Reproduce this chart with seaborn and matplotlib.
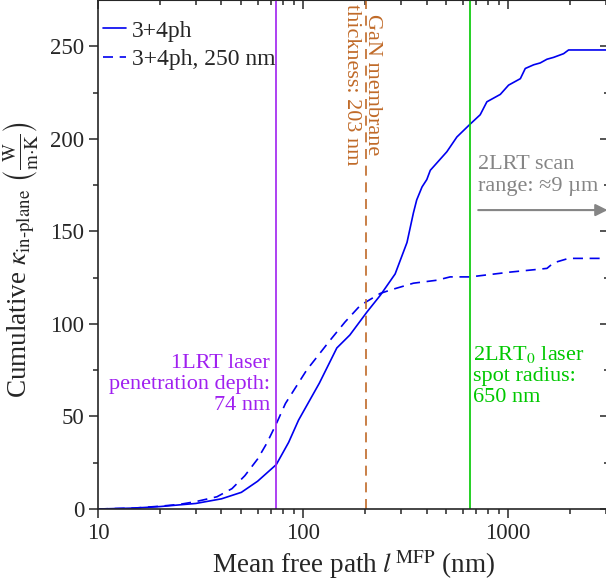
import matplotlib
matplotlib.use('AGG')
import matplotlib.pyplot as plt
import seaborn as sns
import pandas as pd
import numpy as np

# cumulative in-plane conductivity vs mean free path
mfp_full = [10, 15, 20, 30, 40, 50, 60, 74, 85, 95, 120, 146, 169, 205, 238, 281,
            321, 345, 358, 380, 401, 417, 502, 562, 653, 730, 787, 915, 1004, 1146,
            1211, 1331, 1433, 1545, 1664, 1862, 1969, 3000]
kappa_full = [0, 0.5, 1.3, 3, 5.5, 9, 15, 24, 36, 48, 68, 87, 94, 106.5, 115.5, 127,
              144, 160, 167, 174, 178, 183, 193, 201, 208, 213, 220, 224, 229, 232.5,
              238, 240, 241, 243, 244, 246, 248, 248]

mfp_250 = [10, 15, 20, 25, 30, 38, 45, 52, 60, 66.5, 74, 82, 104, 135, 160, 190, 238,
           270, 300, 345, 449, 521, 653, 1023, 1400, 1545, 1664, 1969, 3000]
kappa_250 = [0, 0.5, 1.5, 2.5, 4, 6.6, 11, 18, 27, 35.5, 46, 57, 75, 91, 101, 110, 116.5,
             118.5, 120, 122, 123.6, 125.4, 125.4, 128, 129.5, 130, 133, 135.4, 135.4]

series_labels = ["3+4ph", "3+4ph, 250 nm"]

# reference lengths (nm)
lrt1_depth = 74
gan_thickness = 203
lrt2_radius = 650

blue = "#0000f0"
purple = "#a020f0"
brown = "#c06a28"
green = "#00c800"
grey = "#858585"


def main():
    sns.set_style("ticks")
    plt.rcParams['font.family'] = ['Liberation Serif', 'DejaVu Serif']
    plt.rcParams['mathtext.fontset'] = 'stix'

    fig = plt.figure(figsize=(6.06, 5.82), dpi=100)
    ax = fig.add_axes([98 / 606, 73 / 582, 511 / 606, 509 / 582])

    sns.lineplot(x=mfp_full, y=kappa_full, ax=ax, color=blue, lw=1.2,
                 label=series_labels[0])
    sns.lineplot(x=mfp_250, y=kappa_250, ax=ax, color=blue, lw=1.2,
                 dashes=False, label=series_labels[1])
    ax.lines[1].set_dashes([6, 4])

    ax.axvline(lrt1_depth, color=purple, lw=1.2)
    ax.axvline(gan_thickness, color=brown, lw=1.2, dashes=(6, 4))
    ax.axvline(lrt2_radius, color=green, lw=1.2)

    ax.set_xscale("log")
    ax.set_xlim(10, 3100)
    ax.set_ylim(0, 275)
    ax.set_yticks([0, 50, 100, 150, 200, 250])
    ax.set_yticks(np.arange(25, 275, 50), minor=True)
    ax.xaxis.set_major_formatter(matplotlib.ticker.FuncFormatter(lambda v, p: f"{v:g}"))

    for s in ax.spines.values():
        s.set_linewidth(1.2)
        s.set_visible(True)
    ax.tick_params(which="both", direction="out", width=1.1, labelsize=16.5,
                   top=False, right=False)
    ax.tick_params(which="major", length=6.5)
    ax.tick_params(which="minor", length=3.5)

    # mirrored ticks pointing inward on top and right
    sec_x = ax.secondary_xaxis("top")
    sec_x.tick_params(which="both", direction="in", labeltop=False, width=1.1)
    sec_x.tick_params(which="major", length=6.5)
    sec_x.tick_params(which="minor", length=3.5)
    sec_y = ax.secondary_yaxis("right")
    sec_y.set_yticks([0, 50, 100, 150, 200, 250])
    sec_y.set_yticks(np.arange(25, 275, 50), minor=True)
    sec_y.tick_params(which="both", direction="in", labelright=False, width=1.1)
    sec_y.tick_params(which="major", length=6.5)
    sec_y.tick_params(which="minor", length=3.5)

    ax.set_xlabel(r"Mean free path $\mathit{l}^{\,\mathrm{MFP}}$ (nm)", fontsize=19.5)
    ax.xaxis.set_label_coords(0.5, -0.077)
    ax.set_ylabel(r"Cumulative $\kappa_{\mathrm{in\text{-}plane}}$ "
                  r"$\left(\frac{\mathrm{W}}{\mathrm{m{\cdot}K}}\right)$", fontsize=19.5)
    ax.yaxis.set_label_coords(-0.112, 0.49)

    ax.legend(loc="upper left", frameon=False, fontsize=17, handlelength=1.0,
              handletextpad=0.25, labelspacing=0.3, borderaxespad=0.0,
              borderpad=0.2, bbox_to_anchor=(0.0, 0.97))

    ax.text(69, 84, "1LRT laser\npenetration depth:\n74 nm", color=purple,
            fontsize=16, ha="right", va="top", linespacing=1.15)
    ax.text(675, 89, "2LRT$_0$ laser\nspot radius:\n650 nm", color=green,
            fontsize=16, ha="left", va="top", linespacing=1.15)
    ax.text(194, 273, "GaN membrane\nthickness: 203 nm", color=brown,
            fontsize=16, ha="center", va="top", rotation=-90, linespacing=1.15)
    ax.text(714, 191, "2LRT scan\nrange: \u22489 \u00b5m", color=grey,
            fontsize=16, ha="left", va="top", linespacing=1.15)
    ax.annotate("", xy=(3050, 161.5), xytext=(714, 161.5),
                arrowprops=dict(arrowstyle="-|>", color=grey, lw=1.5,
                                mutation_scale=18, shrinkA=0, shrinkB=0))

    fig.savefig("out.png", dpi=100)


if __name__ == "__main__":
    main()
